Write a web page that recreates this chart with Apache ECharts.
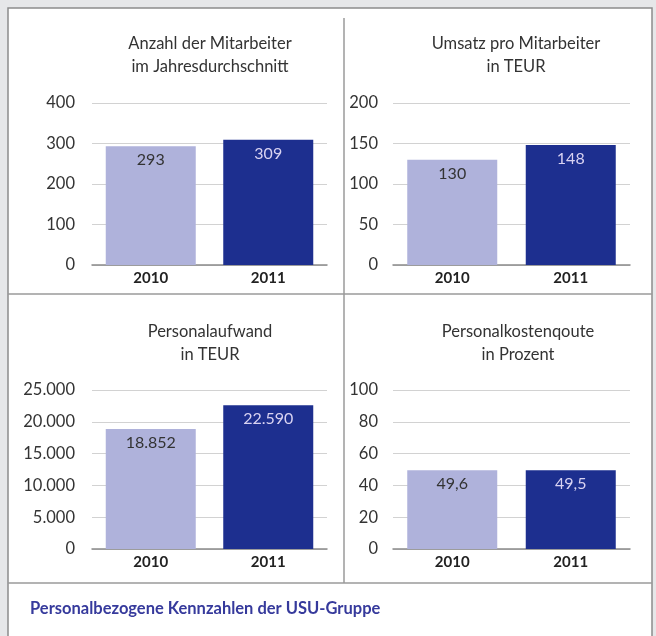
<!DOCTYPE html>
<html>
<head>
<meta charset="utf-8">
<script src="https://cdn.jsdelivr.net/npm/echarts@6/dist/echarts.min.js"></script>
<style>
  html, body { margin: 0; padding: 0; background: #e6e7e9; }
  #chart { width: 656px; height: 636px; }
</style>
</head>
<body>
<div id="chart"></div>
<script>
const years = ['2010', '2011']
const titles = [
  'Anzahl der Mitarbeiter\nim Jahresdurchschnitt',
  'Umsatz pro Mitarbeiter\nin TEUR',
  'Personalaufwand\nin TEUR',
  'Personalkostenqoute\nin Prozent'
]
const mitarbeiter = [293, 309]
const umsatz = [130, 148]
const aufwand = [18852, 22590]
const quote = [49.6, 49.5]
const yMax = [400, 200, 25000, 100]
const yStep = [100, 50, 5000, 20]
const footer = 'Personalbezogene Kennzahlen der USU-Gruppe'

const values = [mitarbeiter, umsatz, aufwand, quote]
const decimals = [0, 0, 0, 1]

// deutsche Zahlenformatierung
function fmt(v, d) {
  return v.toLocaleString('de-DE', { minimumFractionDigits: d, maximumFractionDigits: d })
}

const font = 'Lato, "Open Sans", sans-serif'
const barColors = ['#afb2db', '#1d2f8f']
const labelColors = ['#333333', '#d9d3f2']

const grids = [
  { left: 92, top: 103, width: 235, height: 162 },
  { left: 393, top: 103, width: 237, height: 162 },
  { left: 92, top: 390, width: 235, height: 159 },
  { left: 393, top: 390, width: 237, height: 159 }
]
const titlePos = [
  { left: 205, top: 27 },
  { left: 511, top: 27 },
  { left: 205, top: 315 },
  { left: 513, top: 315 }
]

const chart = echarts.init(document.getElementById('chart'))

const option = {
  backgroundColor: '#e6e7e9',
  animation: false,
  textStyle: { fontFamily: font },
  title: titles.map((t, i) => ({
    text: t,
    left: titlePos[i].left,
    top: titlePos[i].top,
    textAlign: 'center',
    textStyle: { fontSize: 16.5, fontWeight: 'normal', color: '#333', lineHeight: 23, fontFamily: font }
  })),
  grid: grids,
  xAxis: grids.map((g, i) => ({
    type: 'category',
    gridIndex: i,
    data: years,
    axisTick: { show: false },
    axisLine: { lineStyle: { color: '#8a8a8a', width: 1.5 } },
    axisLabel: { fontSize: 15, fontWeight: 'bold', color: '#222', margin: 6, fontFamily: font }
  })),
  yAxis: grids.map((g, i) => ({
    type: 'value',
    gridIndex: i,
    min: 0,
    max: yMax[i],
    interval: yStep[i],
    axisLine: { show: false },
    axisTick: { show: false },
    splitLine: { lineStyle: { color: '#d2d2d2' } },
    axisLabel: {
      fontSize: 16.5,
      color: '#333',
      margin: i % 2 === 0 ? 17 : 15,
      fontFamily: font,
      formatter: v => fmt(v, 0)
    }
  })),
  series: values.map((vals, i) => ({
    type: 'bar',
    xAxisIndex: i,
    yAxisIndex: i,
    barWidth: 90,
    data: vals.map((v, j) => ({
      value: v,
      itemStyle: { color: barColors[j] },
      label: { color: labelColors[j] }
    })),
    label: {
      show: true,
      position: 'insideTop',
      distance: 6,
      fontSize: 16,
      fontFamily: font,
      formatter: p => fmt(p.value, decimals[i])
    }
  })),
  graphic: [
    { type: 'rect', shape: { x: 8, y: 8, width: 644, height: 640 }, style: { fill: '#ffffff', stroke: '#8c8c8c', lineWidth: 1.5 }, z: -10 },
    { type: 'line', shape: { x1: 344, y1: 18, x2: 344, y2: 583 }, style: { stroke: '#9a9a9a', lineWidth: 1.5 } },
    { type: 'line', shape: { x1: 8, y1: 294, x2: 652, y2: 294 }, style: { stroke: '#9a9a9a', lineWidth: 1.5 } },
    { type: 'line', shape: { x1: 8, y1: 583, x2: 652, y2: 583 }, style: { stroke: '#9a9a9a', lineWidth: 1.5 } },
    {
      type: 'text',
      left: 30,
      top: 600,
      style: { text: footer, fontSize: 16.5, fontWeight: 'bold', fill: '#363a9c', fontFamily: font }
    }
  ]
}

chart.setOption(option)
</script>
</body>
</html>
